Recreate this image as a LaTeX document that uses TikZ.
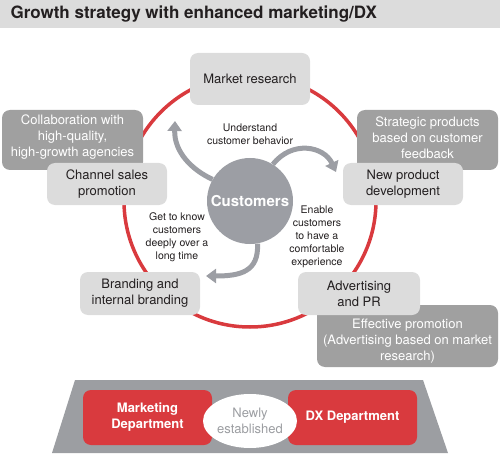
\documentclass[tikz,border=0pt]{standalone}
\usepackage{fontspec}
\setmainfont{TeX Gyre Heros}
\usetikzlibrary{arrows.meta,shapes.geometric}
\definecolor{boxlight}{HTML}{DCDCDC}
\definecolor{boxdark}{HTML}{A0A0A0}
\definecolor{ringred}{HTML}{D93A3E}
\definecolor{custgray}{HTML}{9C9EA4}
\definecolor{basegray}{HTML}{9C9EA2}
\definecolor{txtdark}{HTML}{231F20}
\tikzset{
  lightbox/.style={fill=boxlight, rounded corners=8pt, align=center, inner sep=0pt,
    text=txtdark, font=\fontsize{13}{16}\selectfont},
  darkbox/.style={fill=boxdark, rounded corners=8pt, inner sep=0pt},
  darktext/.style={align=center, inner sep=0pt, text=white, font=\fontsize{13}{16}\selectfont},
  note/.style={align=center, text=txtdark, inner sep=0pt, font=\fontsize{10.5}{13}\selectfont},
  flowarrow/.style={draw=custgray, line width=5pt, -{Triangle[width=14pt,length=10pt]}},
  deptbox/.style={fill=ringred, rounded corners=8pt, align=center, inner sep=0pt,
    text=white, font=\fontsize{13}{16}\selectfont\bfseries,
    minimum width=129pt, minimum height=55pt}
}
\begin{document}
\begin{tikzpicture}[x=1pt, y=-1pt]
    \useasboundingbox (0,0) rectangle (500,457);
    % title bar
    \fill[boxlight] (0,0) rectangle (500,28);
    \node[anchor=west, text=txtdark, font=\fontsize{17}{20}\selectfont\bfseries] (title) at (7,14.5)
        {Growth strategy with enhanced marketing/DX};
    % ring
    \draw[ringred, line width=3.5pt] (250,201) circle[radius=126];
    % outer notes
    \node[darkbox, minimum width=141pt, minimum height=60pt] (collab) at (72.5,140) {};
    \node[darktext] (collabtext) at (72.5,137.5) {Collaboration with\\high-quality,\\high-growth agencies};
    \node[darkbox, minimum width=141pt, minimum height=60pt] (strategic) at (427.5,140) {};
    \node[darktext] (strategictext) at (427.5,137.5) {Strategic products\\based on customer\\feedback};
    \node[darkbox, minimum width=181pt, minimum height=62pt] (effective) at (407.5,336) {};
    \node[darktext] (effectivetext) at (407.5,341.5) {Effective promotion\\(Advertising based on market\\research)};
    % activities
    \node[lightbox, minimum width=120pt, minimum height=52pt] (market) at (250,79) {Market research};
    \node[lightbox, minimum width=120pt, minimum height=42pt] (channel) at (107,184) {Channel sales\\promotion};
    \node[lightbox, minimum width=120pt, minimum height=42pt] (newprod) at (403,184) {New product\\development};
    \node[lightbox, minimum width=120pt, minimum height=43pt] (brand) at (140,293.5) {Branding and\\internal branding};
    \node[lightbox, minimum width=122pt, minimum height=43pt] (advert) at (359,293.5) {Advertising\\and PR};
    % customers
    \node[circle, fill=custgray, minimum size=86pt, inner sep=0pt, text=white,
        font=\fontsize{15}{18}\selectfont\bfseries] (cust) at (250,201) {Customers};
    \coordinate (tipmarket) at (175,121);
    \coordinate (tipnewprod) at (336,172);
    \coordinate (tipbrand) at (206,276);
    \draw[flowarrow] (cust.150) .. controls (192,170) and (174,152) .. (tipmarket);
    \draw[flowarrow] (cust.58) .. controls (292,140) and (324,146) .. (tipnewprod);
    \draw[flowarrow] (cust.-80) .. controls (259,272) and (240,276) .. (tipbrand);
    % arrow texts
    \node[note] (understand) at (250,134.5) {Understand\\customer behavior};
    \node[note] (getknow) at (177,237.5) {Get to know\\customers\\deeply over a\\long time};
    \node[note] (enable) at (317,236.5) {Enable\\customers\\to have a\\comfortable\\experience};
    % organisation base
    \fill[basegray] (75,380) -- (423,380) -- (448,453) -- (52,453) -- cycle;
    \node[deptbox] (mktdept) at (147.5,417.5) {Marketing\\Department};
    \node[deptbox] (dxdept) at (352.5,417.5) {DX Department};
    \node[ellipse, fill=white, minimum width=94pt, minimum height=54pt, inner sep=0pt, align=center,
        text=basegray, font=\fontsize{13}{16}\selectfont] (newly) at (250,421) {Newly\\established};
\end{tikzpicture}
\end{document}
